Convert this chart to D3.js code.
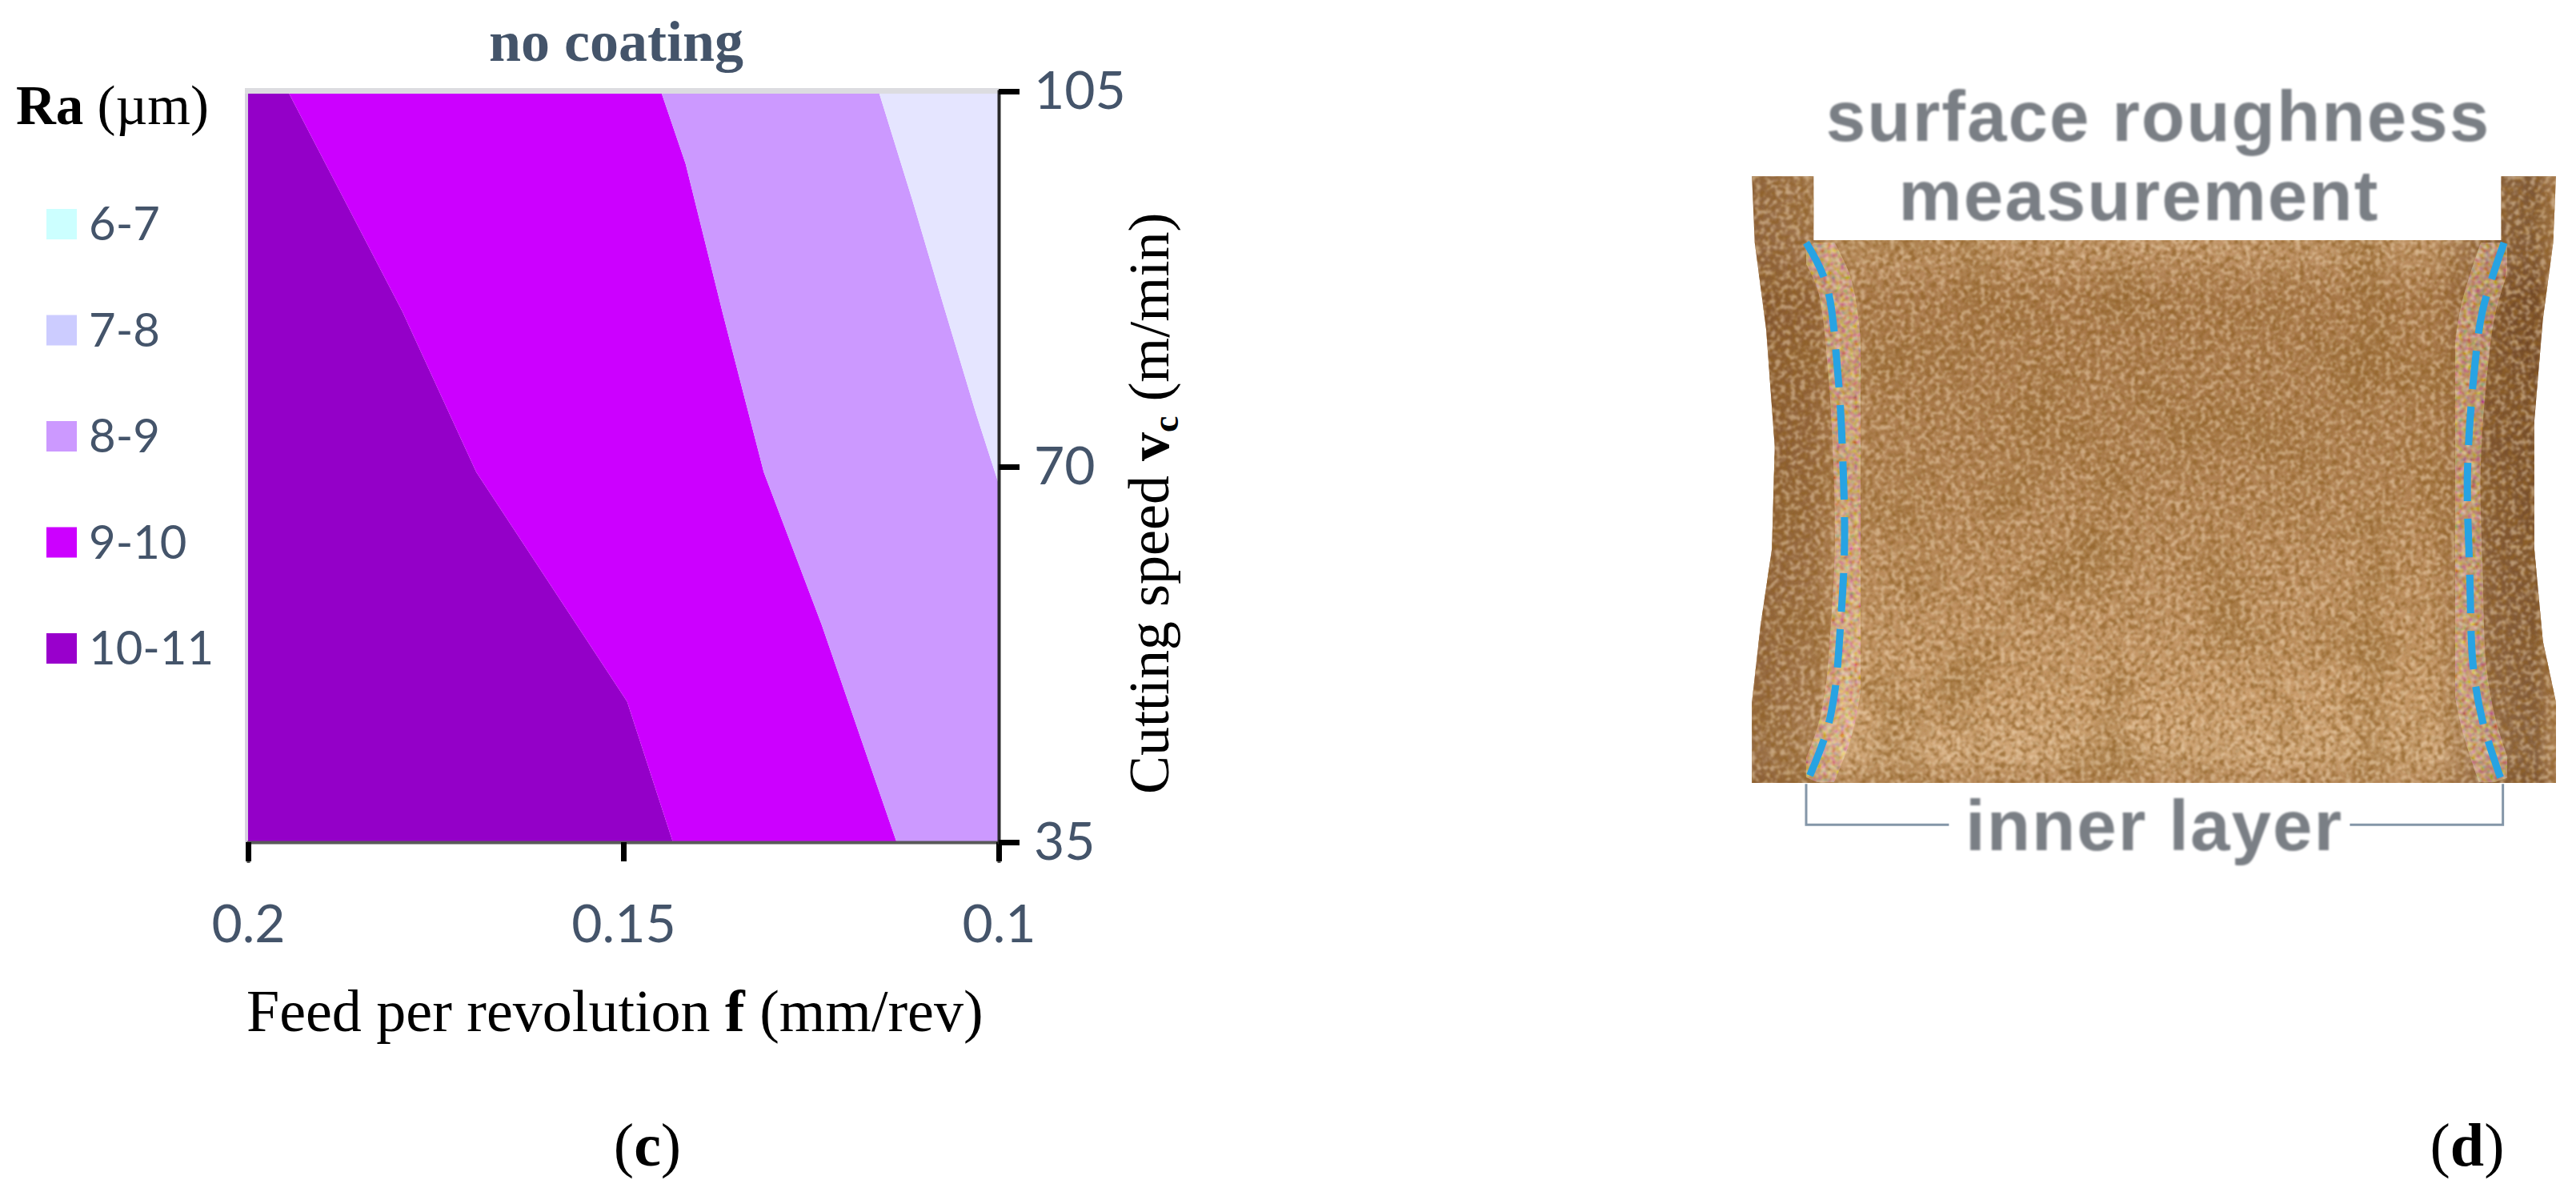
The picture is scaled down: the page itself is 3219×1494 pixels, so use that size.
<!DOCTYPE html>
<html><head><meta charset="utf-8">
<script src="https://cdn.jsdelivr.net/npm/d3@7"></script>
<style>html,body{margin:0;background:#fff}svg{display:block}</style></head>
<body><svg id="c" width="3219" height="1494"></svg>
<script>
const xTicks=[0.2,0.15,0.1];
const yTicks=[35,70,105];
const legendLabels=["6-7","7-8","8-9","9-10","10-11"];
const legendColors=["#ccffff","#ccccff","#cc99ff","#cc00ff","#9900cc"];
const bandColors=["#9400c8","#cc00ff","#cc99ff","#e5e5ff"];
// contour boundaries: [feed, speed]
const b10=[[0.1947,105],[0.1794,84.4],[0.1696,69.5],[0.1495,48.1],[0.1434,35]];
const b9=[[0.1450,105],[0.1417,98.2],[0.1368,84.4],[0.1313,69.5],[0.1236,55.3],[0.1136,35]];
const b8=[[0.1160,105],[0.1115,94.85],[0.1073,84.9],[0.1030,74.9],[0.1,68.4]];
const outlineLeft=[[125,220],[130,350],[150,520],[165,750],[160,950],[140,1100],[125,1250],[125,1408]];
const outlineRight=[[1533,220],[1528,350],[1510,500],[1495,700],[1495,950],[1510,1130],[1533,1250],[1533,1408]];
const dashLeft=[[220,350],[255,430],[275,600],[285,800],[287,950],[280,1100],[270,1230],[255,1310],[222,1405]];
const dashRight=[[1442,350],[1405,480],[1390,600],[1378,800],[1382,1000],[1388,1180],[1405,1290],[1438,1405]];

const svg=d3.select("#c");
const L=310,R=1248,T=114,B=1052;
const x=d3.scaleLinear().domain([0.2,0.1]).range([L,R]);
const y=d3.scaleLinear().domain([35,105]).range([B,T]);
const area=d3.line().x(d=>x(d[0])).y(d=>y(d[1]));
const corner=(f,v)=>[f,v];
const bands=[
 [corner(0.2,105),...b10,corner(0.2,35)],
 [...b10,...b9.slice().reverse()],
 [...b9,corner(0.1,35),...b8.slice().reverse()],
 [...b8,corner(0.1,105)]
];
svg.selectAll("path.band").data(bands).join("path").attr("class","band")
 .attr("d",d=>area(d)+"Z").attr("fill",(d,i)=>bandColors[i]);
svg.append("rect").attr("x",L-4).attr("y",T).attr("width",4).attr("height",B-T).attr("fill","#d8d0e0");
svg.append("rect").attr("x",L-4).attr("y",T-4).attr("width",R-L+4).attr("height",7).attr("fill","#dcdce0");

const tickColor="#44546a";
const tickFont="Lato, 'Open Sans', sans-serif";
const gx=svg.append("g").attr("transform",`translate(0,${B})`)
 .call(d3.axisBottom(x).tickValues(xTicks).tickFormat(d=>String(d)).tickSize(26).tickPadding(52));
const gy=svg.append("g").attr("transform",`translate(${R},0)`)
 .call(d3.axisRight(y).tickValues(yTicks).tickFormat(d=>String(d)).tickSize(26).tickPadding(18));
gx.select(".domain").attr("stroke","#595959").attr("stroke-width",4);
gy.select(".domain").attr("stroke","#2a2a2a").attr("stroke-width",4);
[gx,gy].forEach(g=>{g.selectAll(".tick line").attr("stroke","#000").attr("stroke-width",7);
 g.selectAll(".tick text").attr("fill",tickColor).attr("font-family",tickFont).attr("font-size",66);});
gx.selectAll(".tick line").attr("y2",24);

const serif="'Liberation Serif', serif";
svg.append("text").attr("x",770).attr("y",76).attr("text-anchor","middle").attr("font-family",serif)
 .attr("font-weight","bold").attr("font-size",72).attr("fill",tickColor).text("no coating");
const ra=svg.append("text").attr("x",20).attr("y",155).attr("font-family",serif).attr("font-size",69).attr("fill","#000");
ra.append("tspan").attr("font-weight","bold").text("Ra");ra.append("tspan").text(" (µm)");

const ly=d3.scalePoint().domain(legendLabels).range([280,810]);
const lg=svg.selectAll("g.leg").data(legendLabels).join("g").attr("class","leg").attr("transform",d=>`translate(0,${ly(d)})`);
lg.append("rect").attr("x",58).attr("y",-19).attr("width",38).attr("height",38).attr("fill",(d,i)=>legendColors[i]);
lg.append("text").attr("x",111).attr("y",20).attr("font-family",tickFont).attr("font-size",58).attr("fill",tickColor).text(d=>d);

const xt=svg.append("text").attr("x",308).attr("y",1288).attr("font-family",serif).attr("font-size",74).attr("fill","#000");
xt.append("tspan").text("Feed per revolution ");xt.append("tspan").attr("font-weight","bold").text("f");xt.append("tspan").text(" (mm/rev)");
const yt=svg.append("text").attr("transform","translate(1460,992) rotate(-90)").attr("font-family",serif).attr("font-size",72).attr("fill","#000");
yt.append("tspan").text("Cutting speed ");yt.append("tspan").attr("font-weight","bold").text("v");
yt.append("tspan").attr("font-weight","bold").attr("font-size",46).attr("dy",12).text("c");
yt.append("tspan").attr("dy",-12).text(" (m/min)");

function cap(cx,letter){const t=svg.append("text").attr("x",cx).attr("y",1456).attr("text-anchor","middle").attr("font-family",serif).attr("font-size",76).attr("fill","#000");
 t.append("tspan").text("(");t.append("tspan").attr("font-weight","bold").text(letter);t.append("tspan").text(")");}
cap(809,"c");cap(3083,"d");

// panel (d) specimen, drawn in crop coordinates through scales
const px=d3.scaleLinear().domain([0,1568]).range([2100,3219]);
const py=d3.scaleLinear().domain([0,1568]).range([80,1080]);
const ln=d3.line().x(d=>px(d[0])).y(d=>py(d[1])).curve(d3.curveCatmullRom);
const defs=svg.append("defs");
const gr=defs.append("linearGradient").attr("id","gv").attr("x1",0).attr("x2",0).attr("y1",0).attr("y2",1);
[[0,"#c49a6c"],[.13,"#c09468"],[.2,"#a9794b"],[.45,"#ad7e50"],[.7,"#bd8f60"],[.86,"#c99c6c"],[.95,"#d2a97c"],[1,"#b88a5c"]].forEach(s=>gr.append("stop").attr("offset",s[0]).attr("stop-color",s[1]));
const gs=defs.append("linearGradient").attr("id","gh");
[[0,"#4a2006",.45],[.08,"#5a2e0e",.3],[.12,"#6a3a14",0],[.84,"#5a2a08",0],[.91,"#3a1804",.4],[.97,"#3a1804",.5],[1,"#6a3a14",.25]].forEach(s=>gs.append("stop").attr("offset",s[0]).attr("stop-color",s[1]).attr("stop-opacity",s[2]));
function grain(id,freq,seed,rgb,gainCol,offset,blur){
 const f=defs.append("filter").attr("id",id).attr("x",0).attr("y",0).attr("width","100%").attr("height","100%");
 f.append("feTurbulence").attr("type","fractalNoise").attr("baseFrequency",freq).attr("numOctaves",3).attr("seed",seed);
 f.append("feColorMatrix").attr("type","matrix").attr("values",`0 0 0 0 ${rgb[0]}  0 0 0 0 ${rgb[1]}  0 0 0 0 ${rgb[2]}  ${gainCol} ${offset}`);
 f.append("feGaussianBlur").attr("stdDeviation",blur);
 f.append("feComposite").attr("in2","SourceAlpha").attr("operator","in");
}
grain("grain",0.15,4,[0.28,0.12,0.02],"4.5 0 0 0",-2.0,1);
grain("grain2",0.16,11,[0.96,0.78,0.56],"0 4.5 0 0",-2.1,1);
grain("blotch",0.012,23,[0.3,0.14,0.03],"3 0 0 0",-1.4,3);
const fm=defs.append("filter").attr("id","mosaic").attr("x","-20%").attr("y",0).attr("width","140%").attr("height","100%");
fm.append("feTurbulence").attr("type","fractalNoise").attr("baseFrequency",0.18).attr("numOctaves",1).attr("seed",7);
fm.append("feColorMatrix").attr("type","matrix").attr("values","2.6 0 0 0 -0.2  0 2 0 0 -0.35  0 0 2 0 -0.5  0 0 0 0 0.38");
fm.append("feComposite").attr("in2","SourceAlpha").attr("operator","in");
defs.append("filter").attr("id","soft").append("feGaussianBlur").attr("stdDeviation",1.1);
const notch=[[1437,220],[1437,345],[233,345],[233,220]];
const shape="M"+outlineLeft.map(d=>[px(d[0]),py(d[1])]).join("L")
 +"L"+outlineRight.slice().reverse().map(d=>[px(d[0]),py(d[1])]).join("L")
 +"L"+notch.map(d=>[px(d[0]),py(d[1])]).join("L")+"Z";
defs.append("clipPath").attr("id","spc").append("path").attr("d",shape);
const spg=svg.append("g").attr("clip-path","url(#spc)");
const bx=px(120),bw=px(1540)-bx,by=py(215),bh=py(1412)-by;
const layer=(fill,filter,op)=>{const r=spg.append("rect").attr("x",bx).attr("y",by).attr("width",bw).attr("height",bh).attr("fill",fill);if(filter)r.attr("filter",filter).attr("opacity",op);};
layer("url(#gv)");
layer("url(#gh)");
layer("#000","url(#blotch)",.5);
layer("#000","url(#grain)",.7);
layer("#000","url(#grain2)",.45);
[dashLeft,dashRight].forEach((d,i)=>{
 spg.append("path").attr("d",ln(d.map(p=>[p[0]+(i?-8:14),p[1]]))).attr("fill","none").attr("stroke","#000").attr("stroke-width",44).attr("filter","url(#mosaic)");
 svg.append("path").attr("d",ln(d)).attr("fill","none").attr("stroke","#27a3e3").attr("stroke-width",9).attr("stroke-dasharray","48 22");
});
const bracket=[[[470,1490],[220,1490],[220,1410]],[[1172,1490],[1440,1490],[1440,1410]]];
const plain=d3.line().x(d=>px(d[0])).y(d=>py(d[1]));
bracket.forEach(d=>svg.append("path").attr("d",plain(d)).attr("fill","none").attr("stroke","#8496a8").attr("stroke-width",3));
const sans="'Liberation Sans', Arial, sans-serif";
const t=svg.append("g").attr("filter","url(#soft)").attr("font-family",sans).attr("font-weight","bold").attr("fill","#7a7f85").attr("text-anchor","middle");
t.append("text").attr("x",2697).attr("y",176).attr("font-size",89).attr("letter-spacing",2).text("surface roughness");
t.append("text").attr("x",2673).attr("y",275).attr("font-size",89).attr("letter-spacing",2).text("measurement");
t.append("text").attr("x",2692).attr("y",1062).attr("font-size",89).attr("letter-spacing",2).text("inner layer");
</script></body></html>
